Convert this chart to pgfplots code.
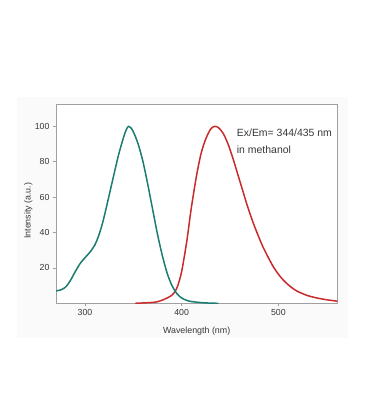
\documentclass[border=0pt]{standalone}
\usepackage{pgfplots}
\pgfplotsset{compat=1.18}
\usepackage{fontspec}
\setmainfont{Liberation Sans}
\definecolor{exc}{HTML}{1B7C72}
\definecolor{emi}{HTML}{C92A2C}
\definecolor{axgray}{HTML}{A0A0A0}
\definecolor{txt}{HTML}{383838}
\definecolor{bgpanel}{HTML}{FAFAFA}
\begin{document}
\begin{tikzpicture}[x=1bp,y=1bp]
\useasboundingbox (0,0) rectangle (369,419);
\fill[bgpanel] (17,81) rectangle (348,322);
\begin{axis}[
  at={(56bp,115.7bp)}, anchor=south west,
  scale only axis, width=281.3bp, height=199bp,
  xmin=270, xmax=561, ymin=0, ymax=112.5,
  xtick={300,400,500}, ytick={20,40,60,80,100},
  tick pos=left, tick align=outside,
  major tick length=3bp,
  axis line style={axgray, line width=0.8pt},
  every tick/.style={axgray, line width=0.6pt},
  axis background/.style={fill=white},
  ticklabel style={font=\fontsize{8.8}{10}\selectfont, text=txt},
  /pgf/number format/assume math mode=true,
  xlabel={Wavelength (nm)}, ylabel={Intensity (a.u.)},
  label style={font=\fontsize{8.9}{10}\selectfont, text=txt},
  xlabel style={at={(axis description cs:0.5,-0.139)}, anchor=center},
  ylabel style={at={(axis description cs:-0.0985,0.465)}, anchor=center},
  clip=true,
]
\addplot[emi, line width=1.5pt, smooth] coordinates {
(352,0) (360,0.2) (370,0.5) (375,0.9) (380,1.8) (385,3) (390,4.6) (393,6.5) (396,10) (400,18)
(405,34) (408,46) (410,54) (415,71) (420,84.5) (425,93) (430,98.5) (434,100) (438,99.3)
(443,96) (448,90) (453,82) (458,73) (463,64) (468,55) (474,45.5) (479,38.5) (484,32)
(490,25.5) (495,20.5) (500,16.5) (505,13.2) (510,10.6) (515,8.4) (520,6.7) (530,4.4)
(540,3) (550,2) (561,1.2)
};
\addplot[exc, line width=1.5pt, smooth] coordinates {
(270,7) (275,7.6) (280,9.2) (285,13) (290,18) (295,22.5) (300,25.8) (305,28.8) (310,32.8)
(314,38) (318,45) (322,54) (326,63.5) (330,73) (335,84.5) (340,94) (343,98.5) (345,100)
(347,99.5) (350,97) (355,90) (360,80) (365,67) (370,53) (375,39) (380,27) (385,17)
(390,10) (395,5.5) (400,3) (405,1.7) (410,1) (420,0.4) (430,0.1) (438,0)
};
\end{axis}
\node[anchor=base west, inner sep=0, text=txt, font=\fontsize{10.5}{12}\selectfont] at (236.7,282.3) {Ex/Em= 344/435 nm};
\node[anchor=base west, inner sep=0, text=txt, font=\fontsize{10.5}{12}\selectfont] at (236.7,265.7) {in methanol};
\end{tikzpicture}
\end{document}
